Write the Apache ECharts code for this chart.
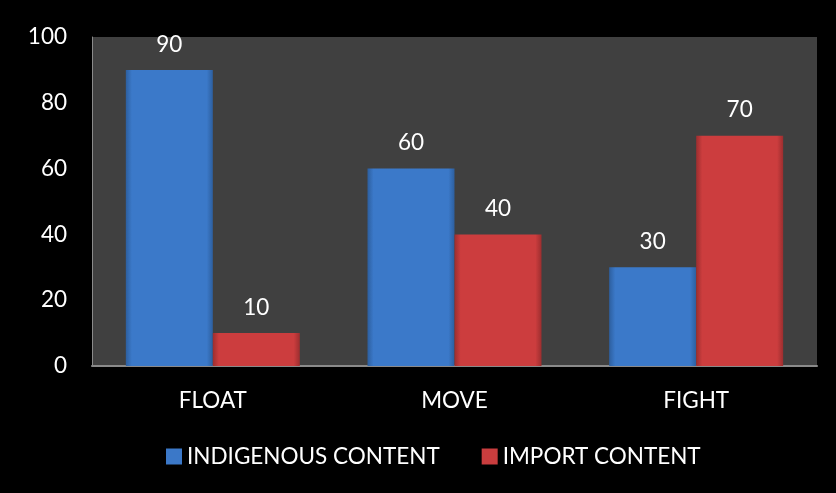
<!DOCTYPE html>
<html>
<head>
<meta charset="utf-8">
<script src="https://cdn.jsdelivr.net/npm/echarts@6/dist/echarts.min.js"></script>
<style>
html,body{margin:0;padding:0;background:#000;}
#c{width:836px;height:493px;}
</style>
</head>
<body>
<div id="c"></div>
<script>
const categories = ['FLOAT', 'MOVE', 'FIGHT'];
const indigenous = [90, 60, 30];
const importContent = [10, 40, 70];
const seriesNames = ['INDIGENOUS CONTENT', 'IMPORT CONTENT'];

function bevel(edge, mid) {
  return new echarts.graphic.LinearGradient(0, 0, 1, 0, [
    {offset: 0, color: edge},
    {offset: 0.07, color: mid},
    {offset: 0.93, color: mid},
    {offset: 1, color: edge}
  ]);
}
const font = 'Lato, "Open Sans", sans-serif';
const fs = 22.5;
const chart = echarts.init(document.getElementById('c'));
chart.setOption({
  backgroundColor: '#000',
  animation: false,
  textStyle: {fontFamily: font},
  grid: {left: 92, right: 19, top: 37, bottom: 127, show: true, backgroundColor: '#404040', borderWidth: 0},
  legend: {
    data: [
      {name: seriesNames[0], itemStyle: {color: '#3b78c8'}},
      {name: seriesNames[1], itemStyle: {color: '#c93d3e'}}
    ],
    left: 166, top: 445, padding: 0,
    itemWidth: 16, itemHeight: 16, itemGap: 42,
    textStyle: {color: '#fff', fontSize: fs, fontFamily: font},
    icon: 'rect'
  },
  xAxis: {
    type: 'category',
    data: categories,
    axisLine: {show: true, lineStyle: {color: '#8a8a8a', width: 2}},
    axisTick: {show: false},
    axisLabel: {color: '#fff', fontSize: fs, margin: 23, fontFamily: font}
  },
  yAxis: {
    type: 'value',
    min: 0, max: 100, interval: 20,
    axisLine: {show: true, lineStyle: {color: '#8a8a8a', width: 1}},
    axisTick: {show: false},
    splitLine: {show: false},
    axisLabel: {color: '#fff', fontSize: fs, margin: 25, fontFamily: font}
  },
  series: [
    {
      name: seriesNames[0], type: 'bar', data: indigenous,
      barGap: '0%', barCategoryGap: '28%',
      itemStyle: {color: bevel('#2d5f9f', '#3b79c9')},
      label: {show: true, position: 'top', distance: 14, color: '#fff', fontSize: fs, fontFamily: font}
    },
    {
      name: seriesNames[1], type: 'bar', data: importContent,
      barGap: '0%', barCategoryGap: '28%',
      itemStyle: {color: bevel('#9c2e2f', '#cc3d3e')},
      label: {show: true, position: 'top', distance: 14, color: '#fff', fontSize: fs, fontFamily: font}
    }
  ]
});
</script>
</body>
</html>
